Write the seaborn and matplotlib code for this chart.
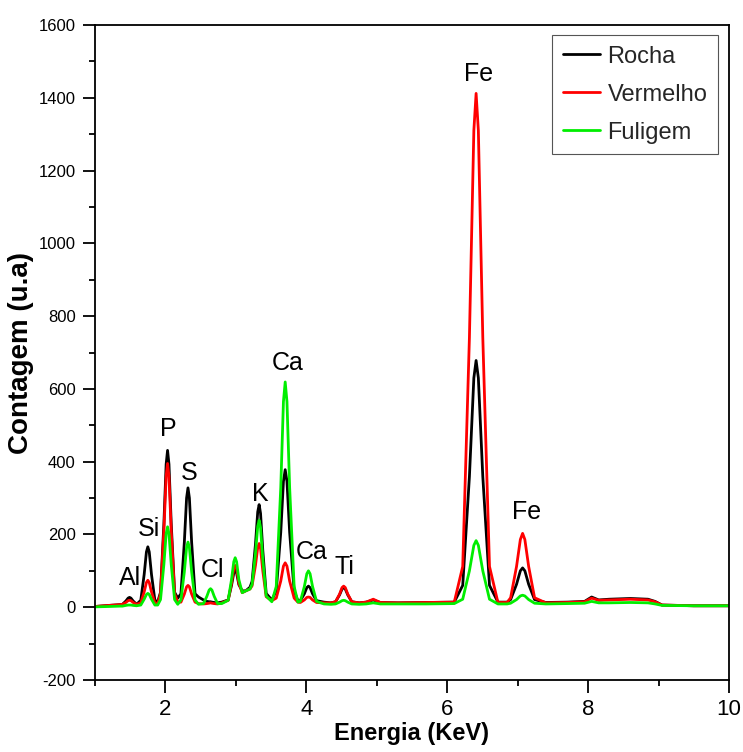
import numpy as np
import pandas as pd
import matplotlib
matplotlib.use("Agg")
import matplotlib.pyplot as plt
from matplotlib import font_manager as fm
from matplotlib.ticker import MultipleLocator
import seaborn as sns

# ---------------- data ----------------
energy = [
    1.00, 1.20, 1.35,
    1.39, 1.438, 1.47, 1.49, 1.51, 1.542, 1.59,          # Al
    1.65, 1.698, 1.73, 1.75, 1.77, 1.802, 1.85,          # Si
    1.89,
    1.93, 1.978, 2.01, 2.03, 2.05, 2.082, 2.13,          # P
    2.175,
    2.22, 2.268, 2.30, 2.32, 2.34, 2.372, 2.42,          # S
    2.47,
    2.54, 2.588, 2.62, 2.64, 2.66, 2.692, 2.74,          # Cl
    2.80,
    2.89, 2.938, 2.97, 2.99, 3.01, 3.042, 3.09,          # ~3.0
    3.14, 3.20,
    3.23, 3.278, 3.31, 3.33, 3.35, 3.382, 3.43,          # K
    3.51,
    3.573, 3.637, 3.675, 3.70, 3.725, 3.763, 3.827,      # Ca
    3.88,
    3.915, 3.972, 4.007, 4.03, 4.053, 4.088, 4.145,      # Ca Kb
    4.25, 4.35,
    4.415, 4.472, 4.507, 4.53, 4.553, 4.588, 4.645,      # Ti
    4.75,
    4.85, 4.95, 5.05,
    5.3, 5.7, 6.1,
    6.22, 6.315, 6.378, 6.41, 6.442, 6.505, 6.60,        # Fe
    6.72, 6.85,
    6.90, 6.984, 7.038, 7.07, 7.102, 7.156, 7.24,        # Fe Kb
    7.4, 7.7, 7.95,
    8.05, 8.15,
    8.3, 8.6, 8.85, 8.95, 9.05,
    9.5, 10.0,
]

rocha = [
    2, 5, 7,
    8, 17, 25, 27, 25, 17, 8,
    19, 90, 152, 166, 152, 90, 19,
    15,
    41, 230, 393, 431, 393, 230, 41,
    25,
    37, 178, 300, 328, 300, 178, 37,
    28,
    20, 16, 15, 15, 14, 13, 12,
    14,
    20, 60, 94, 102, 94, 62, 45,
    45, 55,
    71, 173, 262, 282, 258, 156, 38,
    20,
    45, 206, 346, 378, 346, 206, 45,
    18,
    18, 37, 54, 58, 54, 37, 18,
    14, 12,
    15, 34, 50, 54, 50, 34, 15,
    12,
    14, 20, 13,
    12, 13, 14,
    60, 359, 630, 678, 630, 359, 60,
    14, 14,
    21, 63, 100, 108, 100, 63, 21,
    13, 14, 16,
    28, 20,
    22, 24, 22, 16, 6,
    4, 4,
]

vermelho = [
    2, 5, 7,
    8, 13, 18, 19, 18, 13, 8,
    12, 42, 68, 74, 68, 42, 12,
    10,
    37, 210, 360, 395, 360, 210, 37,
    14,
    14, 36, 56, 60, 56, 36, 14,
    10,
    9, 10, 11, 12, 11, 10, 9,
    12,
    19, 66, 106, 115, 106, 66, 40,
    45, 50,
    59, 115, 164, 175, 161, 100, 29,
    18,
    25, 72, 113, 122, 113, 72, 25,
    14,
    13, 20, 27, 28, 27, 20, 13,
    12, 12,
    15, 36, 54, 58, 54, 36, 15,
    12,
    14, 22, 13,
    12, 13, 14,
    112, 741, 1310, 1412, 1310, 741, 112,
    13, 13,
    26, 112, 186, 203, 186, 112, 26,
    12, 13, 15,
    25, 19,
    20, 22, 20, 15, 6,
    4, 4,
]

fuligem = [
    1, 2, 3,
    3, 5, 6, 6, 6, 5, 4,
    6, 22, 35, 38, 35, 22, 6,
    6,
    21, 118, 202, 221, 202, 118, 21,
    8,
    20, 97, 164, 179, 164, 97, 20,
    8,
    10, 30, 47, 51, 47, 30, 10,
    10,
    19, 76, 125, 136, 125, 76, 40,
    45, 50,
    63, 148, 222, 239, 219, 131, 31,
    15,
    57, 329, 565, 619, 565, 329, 57,
    14,
    16, 57, 92, 100, 92, 57, 16,
    9, 8,
    9, 14, 18, 19, 18, 14, 9,
    8,
    9, 12, 9,
    9, 9, 10,
    22, 100, 170, 183, 170, 100, 22,
    9, 9,
    11, 21, 31, 33, 31, 21, 11,
    9, 10, 11,
    16, 12,
    12, 13, 12, 9, 5,
    4, 4,
]

series_names = ["Rocha", "Vermelho", "Fuligem"]
series_colors = ["#000000", "#ff0000", "#00ee00"]

peak_labels = ["Al", "Si", "P", "S", "Cl", "K", "Ca", "Ca", "Ti", "Fe", "Fe"]
peak_label_x = [1.49, 1.76, 2.04, 2.33, 2.67, 3.35, 3.74, 4.07, 4.54, 6.45, 7.12]
peak_label_y = [80, 214, 489, 368, 102, 310, 670, 151, 110, 1464, 261]

# ---------------- build long-form table ----------------
df = pd.concat(
    [pd.DataFrame({"Energia": energy, "Contagem": vals, "Amostra": name})
     for name, vals in zip(series_names, [rocha, vermelho, fuligem])],
    ignore_index=True,
)

# ---------------- fonts ----------------
sns.set_theme(style="ticks")
names = {f.name for f in fm.fontManager.ttflist}
NARROW = "Liberation Sans Narrow" in names
plt.rcParams["font.family"] = ["Liberation Sans", "DejaVu Sans"]
plt.rcParams["axes.unicode_minus"] = False
if NARROW:
    cond = ["Liberation Sans Narrow", "Liberation Sans", "DejaVu Sans"]
    fs_peak, fs_leg, fs_xlab, fs_xtick = 21, 20, 20, 17
else:
    cond = ["Liberation Sans", "DejaVu Sans"]
    fs_peak, fs_leg, fs_xlab, fs_xtick = 18, 17, 17, 16

# ---------------- figure ----------------
fig = plt.figure(figsize=(7.43, 7.52), dpi=100)
ax = fig.add_axes([95 / 743, 1 - 680 / 752, (729 - 95) / 743, (680 - 25) / 752])

sns.lineplot(
    data=df, x="Energia", y="Contagem", hue="Amostra",
    hue_order=series_names, palette=series_colors,
    estimator=None, sort=False, linewidth=2.0, ax=ax,
)

ax.set_xlim(1, 10)
ax.set_ylim(-200, 1600)
ax.xaxis.set_major_locator(MultipleLocator(2))
ax.xaxis.set_minor_locator(MultipleLocator(1))
ax.yaxis.set_major_locator(MultipleLocator(200))
ax.yaxis.set_minor_locator(MultipleLocator(100))

for s in ax.spines.values():
    s.set_visible(True)
    s.set_color("black")
    s.set_linewidth(1.3)

ax.tick_params(axis="both", which="major", direction="out", length=9, width=1.3,
               color="black", top=False, right=False)
ax.tick_params(axis="both", which="minor", direction="out", length=4.5, width=1.3,
               color="black", top=False, right=False)
ax.tick_params(axis="y", which="major", pad=5, labelsize=12, labelcolor="black")
ax.tick_params(axis="x", which="major", pad=5, labelsize=fs_xtick, labelcolor="black")
for lab in ax.get_xticklabels():
    lab.set_family(cond)

ax.set_xlabel("Energia (KeV)", fontsize=fs_xlab, fontweight="bold",
              family=cond, labelpad=1, color="black")
ax.set_ylabel("Contagem (u.a)", fontsize=20, fontweight="bold",
              labelpad=3, color="black")

for t, x, y in zip(peak_labels, peak_label_x, peak_label_y):
    ax.text(x, y, t, ha="center", va="center", fontsize=fs_peak,
            family=cond, color="black")

handles, labels = ax.get_legend_handles_labels()
leg = ax.legend(
    handles, labels, loc="upper right", bbox_to_anchor=(0.9826, 0.9847),
    borderaxespad=0, frameon=True, fancybox=False, framealpha=1,
    edgecolor="#555555", prop={"family": cond, "size": fs_leg},
    handlelength=1.6, handletextpad=0.3, labelspacing=0.68, borderpad=0.45,
)
leg.get_frame().set_linewidth(0.8)
for h in leg.get_lines():
    h.set_linewidth(2.0)

fig.savefig("out.png", dpi=100, facecolor="white")
